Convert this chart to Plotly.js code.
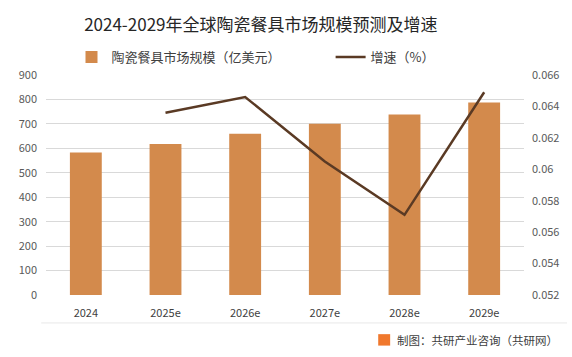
<!DOCTYPE html>
<html>
<head>
<meta charset="utf-8">
<script src="https://cdn.plot.ly/plotly-3.0.1.min.js"></script>
<style>html,body{margin:0;padding:0;background:#fff;}#chart{width:572px;height:357px;}</style>
</head>
<body>
<div id="chart"></div>
<script>
const years = ["2024", "2025e", "2026e", "2027e", "2028e", "2029e"];
const marketSize = [583, 618, 660, 701, 738, 788];
const growthYears = ["2025e", "2026e", "2027e", "2028e", "2029e"];
const growthRate = [0.0636, 0.0646, 0.0605, 0.0571, 0.0649];
const titleText = "2024-2029年全球陶瓷餐具市场规模预测及增速";
const barName = "陶瓷餐具市场规模（亿美元）";
const lineName = "增速（%）";
const sourceText = "制图：共研产业咨询（共研网）";

const cjk = '"Noto Sans CJK SC", "Noto Sans", sans-serif';

const traces = [
  {
    type: "bar", x: years, y: marketSize, name: barName,
    marker: {color: "#D38A4C"}, width: 0.4, yaxis: "y", legend: "legend"
  },
  {
    type: "scatter", mode: "lines", x: growthYears, y: growthRate, name: lineName,
    line: {color: "#5A3A24", width: 2.5}, yaxis: "y2", legend: "legend2"
  }
];

const legendBase = {
  orientation: "h", xref: "container", xanchor: "left",
  yref: "container", y: 0.84, yanchor: "middle",
  font: {family: cjk, size: 13, color: "#404040"},
  bgcolor: "rgba(0,0,0,0)"
};

const layout = {
  width: 572, height: 357,
  margin: {l: 46, r: 48, t: 75, b: 62, autoexpand: false},
  paper_bgcolor: "#ffffff", plot_bgcolor: "#ffffff",
  font: {family: cjk, color: "#595959", size: 11},
  title: {
    text: titleText, font: {family: cjk, size: 17, color: "#262626"},
    x: 0.456, xanchor: "center", xref: "container",
    y: 0.93, yanchor: "middle", yref: "container"
  },
  showlegend: true,
  legend: Object.assign({}, legendBase, {x: 0.125}),
  legend2: Object.assign({}, legendBase, {x: 0.578}),
  bargap: 0.6,
  xaxis: {
    type: "category", showgrid: false, showline: false, zeroline: false,
    ticks: "", ticklabelstandoff: 10, tickfont: {family: cjk, size: 11, color: "#404040"}
  },
  yaxis: {
    range: [0, 900], dtick: 100, showgrid: true, gridcolor: "#D9D9D9", gridwidth: 1,
    zeroline: false, showline: false, ticks: "", ticklabelstandoff: 8,
    tickfont: {family: cjk, size: 11, color: "#595959"}
  },
  yaxis2: {
    overlaying: "y", side: "right", range: [0.052, 0.066], dtick: 0.002,
    showgrid: false, zeroline: false, showline: false, ticks: "", ticklabelstandoff: 7,
    tickfont: {family: cjk, size: 11, color: "#595959"}
  },
  shapes: [
    {type: "line", xref: "paper", yref: "paper", x0: -0.01, x1: 1.09, y0: -0.127, y1: -0.127,
     line: {color: "#E8E8E8", width: 1}},
    {type: "rect", xref: "paper", yref: "paper", x0: 0.695, x1: 0.72, y0: -0.178, y1: -0.23,
     fillcolor: "#F0782D", line: {width: 0}}
  ],
  annotations: [
    {text: sourceText, xref: "paper", yref: "paper", x: 1.075, y: -0.2045,
     xanchor: "right", yanchor: "middle", showarrow: false,
     font: {family: cjk, size: 11.5, color: "#404040"}}
  ]
};

Plotly.newPlot("chart", traces, layout, {displayModeBar: false, staticPlot: true});
</script>
</body>
</html>
